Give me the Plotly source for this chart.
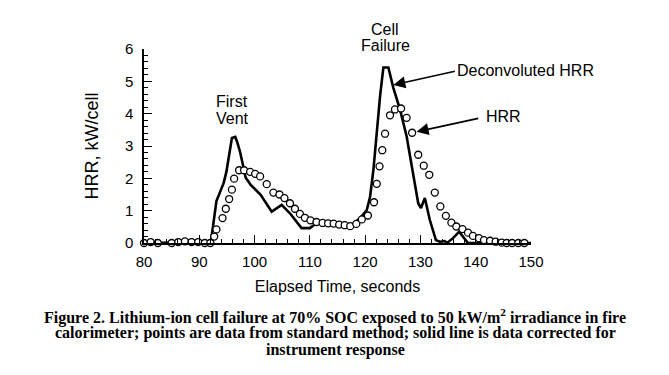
import plotly.graph_objects as go

# ---- data ----
hrr_time = [80.0, 81.2, 82.5, 83.8, 85.0, 86.2, 87.4, 88.6, 89.8, 91.0, 92.0,
            92.7, 93.1, 94.2, 94.8, 95.4, 95.9, 96.3, 97.2, 98.1, 99.2, 100.1,
            101.0, 102.2, 103.4, 104.5, 105.4, 106.4, 107.3, 108.2, 109.1, 110.1,
            111.2, 112.3, 113.3, 114.3, 115.3, 116.3, 117.3, 118.4, 119.4, 120.5,
            121.6, 122.1, 122.6, 123.1, 123.6, 124.5, 125.4, 126.5, 127.5, 128.5,
            129.6, 130.6, 131.6, 132.6, 133.6, 134.6, 135.6, 136.5, 137.6, 138.6,
            139.5, 140.6, 141.5, 142.6, 143.6, 144.7, 145.6, 146.6, 147.7, 148.8]
hrr_value = [0.0, 0.03, 0.0, -0.05, 0.0, 0.03, 0.05, 0.03, 0.03, 0.0, 0.0,
             0.2, 0.42, 0.77, 1.06, 1.36, 1.65, 1.99, 2.25, 2.25, 2.2, 2.14,
             2.06, 1.82, 1.56, 1.5, 1.39, 1.23, 1.06, 0.9, 0.78, 0.7,
             0.65, 0.62, 0.61, 0.6, 0.57, 0.55, 0.52, 0.59, 0.73, 0.85,
             1.26, 1.83, 2.37, 2.87, 3.38, 3.95, 4.13, 4.16, 3.87, 3.41,
             2.73, 2.39, 2.11, 1.56, 1.13, 0.84, 0.63, 0.51, 0.43, 0.32,
             0.22, 0.15, 0.09, 0.07, 0.04, 0.01, 0.0, 0.0, 0.0, 0.0]

deconv_time = [80.0, 92.1, 93.1, 93.8, 94.4, 94.9, 95.5, 95.9, 96.5, 96.9, 97.4,
               98.0, 98.4, 99.3, 101.1, 103.1, 104.9, 106.4, 108.5, 110.0, 111.2,
               113.0, 114.8, 117.3, 119.1, 120.3, 120.9, 121.5, 122.1, 122.7, 123.3,
               124.2, 125.1, 126.3, 127.5, 128.7, 129.6, 130.1, 130.8, 131.7, 132.8,
               133.5, 134.4, 134.8, 135.9, 137.0, 138.0, 138.6, 150.0]
deconv_value = [0.0, 0.03, 1.3, 1.62, 1.85, 2.2, 2.85, 3.25, 3.28, 3.1, 2.8,
                2.3, 2.02, 1.8, 1.49, 0.97, 1.18, 0.92, 0.46, 0.46, 0.61,
                0.63, 0.59, 0.51, 0.77, 1.02, 1.44, 2.27, 3.41, 4.54, 5.43,
                5.43, 4.8, 4.13, 3.3, 2.16, 1.23, 1.08, 1.39, 0.71, 0.09,
                0.04, 0.06, 0.0, 0.15, 0.35, 0.15, 0.0, 0.0]

x_ticks = [80, 90, 100, 110, 120, 130, 140, 150]
y_ticks = [0, 1, 2, 3, 4, 5, 6]

caption_lines = [
    "Figure 2. Lithium-ion cell failure at 70% SOC exposed to 50 kW/m<sup>2</sup> irradiance in fire",
    "calorimeter; points are data from standard method; solid line is data corrected for",
    "instrument response",
]

# ---- layout geometry (page has an 8px body margin) ----
OFF = 8
W, H = 669, 375
L, R, T, B = 136, 146, 41, 140
PW, PH = W - L - R, H - T - B


def page_to_paper(px, py):
    fx, fy = px - OFF, py - OFF
    return (fx - L) / PW, (H - B - fy) / PH


sans = "Liberation Sans, Arial, sans-serif"
serif = "Liberation Serif, Times New Roman, serif"

fig = go.Figure()
fig.add_trace(go.Scatter(
    x=deconv_time, y=deconv_value, mode="lines",
    line=dict(color="black", width=2.6), cliponaxis=False,
    showlegend=False, hoverinfo="skip"))
fig.add_trace(go.Scatter(
    x=hrr_time, y=hrr_value, mode="markers",
    marker=dict(symbol="circle", size=7, color="white",
                line=dict(color="black", width=1.3)),
    cliponaxis=False, showlegend=False))

annotations = []
# peak labels
for txt, px, py in [("First", 232, 101.7), ("Vent", 232, 118.3),
                    ("Cell", 385, 30), ("Failure", 385, 45)]:
    x, y = page_to_paper(px, py)
    annotations.append(dict(x=x, y=y, xref="paper", yref="paper", text=txt, showarrow=False,
                            font=dict(family=sans, size=16, color="black"),
                            xanchor="center", yanchor="middle"))
# labelled arrows (tip in data coords, text anchored at the tail)
annotations.append(dict(x=125.1, y=4.89, ax=136.4, ay=5.32,
                        xref="x", yref="y", axref="x", ayref="y",
                        text="Deconvoluted HRR", xanchor="left", yanchor="middle",
                        font=dict(family=sans, size=16, color="black"),
                        showarrow=True, arrowhead=2, arrowsize=1.5, arrowwidth=1.6,
                        arrowcolor="black", startstandoff=1, borderpad=0))
annotations.append(dict(x=129.3, y=3.44, ax=141.7, ay=3.9,
                        xref="x", yref="y", axref="x", ayref="y",
                        text="HRR", xanchor="left", yanchor="middle",
                        font=dict(family=sans, size=16, color="black"),
                        showarrow=True, arrowhead=2, arrowsize=1.5, arrowwidth=1.6,
                        arrowcolor="black", startstandoff=7, borderpad=0))
# caption
for i, line in enumerate(caption_lines):
    cx, cy = page_to_paper(335, 316 + 17 * i)
    annotations.append(dict(x=cx, y=cy, xref="paper", yref="paper", text="<b>" + line + "</b>",
                            showarrow=False, font=dict(family=serif, size=16, color="black"),
                            xanchor="center", yanchor="middle"))

axis_common = dict(showline=True, linecolor="black", linewidth=1.5, showgrid=False,
                   zeroline=False, ticks="inside", ticklen=8, tickwidth=1.3,
                   tickcolor="black", tickfont=dict(family=sans, size=15, color="black"),
                   mirror=False)

fig.update_layout(
    width=W, height=H, margin=dict(l=L, r=R, t=T, b=B, autoexpand=False),
    paper_bgcolor="white", plot_bgcolor="white",
    xaxis=dict(range=[80, 150], tickvals=x_ticks, ticktext=[str(v) for v in x_ticks],
               minor=dict(dtick=2, tick0=80, ticks="inside", ticklen=4.5, tickwidth=1.2,
                          tickcolor="black"),
               title=dict(text="Elapsed Time, seconds", font=dict(family=sans, size=16, color="black"),
                          standoff=12),
               ticklabelstandoff=4,
               **axis_common),
    yaxis=dict(range=[0, 6], tickvals=y_ticks, ticktext=[str(v) for v in y_ticks],
               minor=dict(dtick=0.2, tick0=0, ticks="inside", ticklen=4.5, tickwidth=1.2,
                          tickcolor="black"),
               title=dict(text="HRR, kW/cell", font=dict(family=sans, size=18, color="black"),
                          standoff=22),
               ticklabelstandoff=6,
               **axis_common),
    annotations=annotations,
)

fig.write_html("out.html")
